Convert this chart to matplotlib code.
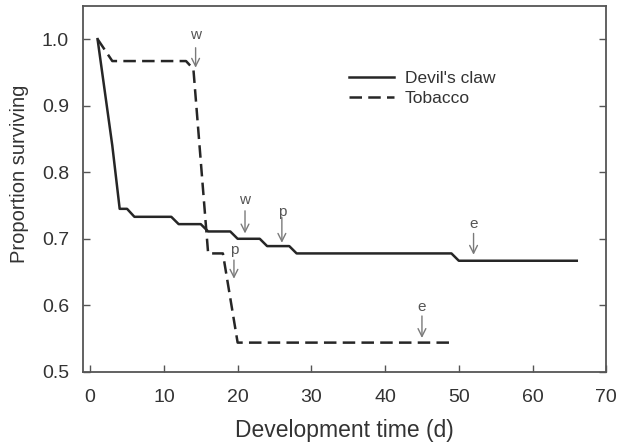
import matplotlib
matplotlib.use("Agg")
import matplotlib.pyplot as plt

plt.rcParams['font.family'] = ['Liberation Sans', 'DejaVu Sans']

# Devil's claw survival
dc_x = [1, 3, 4, 5, 6, 11, 12, 15, 16, 19, 20, 23, 24, 27, 28, 49, 50, 66]
dc_y = [1.0, 0.84, 0.745, 0.745, 0.733, 0.733, 0.722, 0.722, 0.711, 0.711,
        0.70, 0.70, 0.689, 0.689, 0.678, 0.678, 0.667, 0.667]

# Tobacco survival
tb_x = [1, 3, 13, 14, 16, 18, 20, 49]
tb_y = [1.0, 0.967, 0.967, 0.955, 0.678, 0.678, 0.544, 0.544]

# Stage annotations: (label, x, text_y, arrow_start_y, arrow_end_y)
ann_labels = ['w', 'w', 'p', 'e', 'p', 'e']
ann_x = [14.3, 21, 26, 52, 19.5, 45]
ann_text_y = [1.006, 0.758, 0.740, 0.722, 0.683, 0.597]
ann_start_y = [0.987, 0.742, 0.732, 0.708, 0.668, 0.584]
ann_end_y = [0.957, 0.708, 0.694, 0.676, 0.640, 0.551]

fig = plt.figure(figsize=(6.18, 4.47), dpi=100)
ax = fig.add_axes([0.134, 0.168, 0.847, 0.819])

line_col = '#262626'
ax.plot(dc_x, dc_y, color=line_col, lw=1.8, label="Devil's claw")
ax.plot(tb_x, tb_y, color=line_col, lw=1.8, ls=(0, (5, 2.5)), label='Tobacco')

arrow_col = '#7a7a7a'
for lab, x, ty, sy, ey in zip(ann_labels, ann_x, ann_text_y, ann_start_y, ann_end_y):
    ax.annotate('', xy=(x, ey), xytext=(x, sy),
                arrowprops=dict(arrowstyle='->', color=arrow_col, lw=1.0,
                                mutation_scale=14, shrinkA=0, shrinkB=0))
    ax.text(x, ty, lab, ha='center', va='center', fontsize=11, color='#555555')

ax.set_xlim(-1, 70)
ax.set_ylim(0.5, 1.05)
ax.set_xticks([0, 10, 20, 30, 40, 50, 60, 70])
ax.set_yticks([0.5, 0.6, 0.7, 0.8, 0.9, 1.0])
ax.set_yticklabels(['0.5', '0.6', '0.7', '0.8', '0.9', '1.0'])

for s in ax.spines.values():
    s.set_color('#555555')
    s.set_linewidth(1.3)

ax.tick_params(axis='both', direction='in', length=5, width=1, colors='#555555',
               labelcolor='#333333', labelsize=14)
ax.tick_params(axis='y', right=True, pad=10)
ax.tick_params(axis='x', pad=12)

ax.set_xlabel('Development time (d)', fontsize=16.5, color='#333333', labelpad=10)
ax.set_ylabel('Proportion surviving', fontsize=14.5, color='#333333')
ax.yaxis.set_label_coords(-0.102, 0.54)

leg = ax.legend(loc='upper left', bbox_to_anchor=(0.478, 0.865), frameon=False,
                fontsize=12.5, handlelength=2.6, handletextpad=0.65, labelspacing=0.3,
                labelcolor='#333333')

fig.savefig('out.png', dpi=100)
